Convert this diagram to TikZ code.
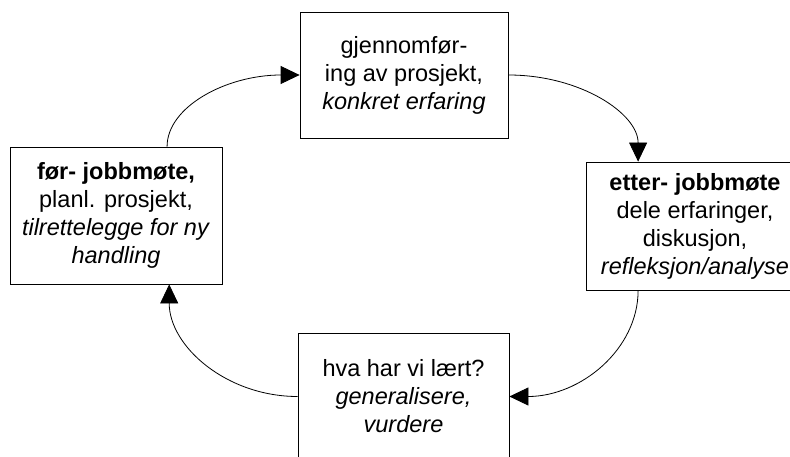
\documentclass[tikz,border=0pt]{standalone}
\usepackage{fontspec}
\setmainfont{Liberation Sans}
\usetikzlibrary{arrows.meta,calc}
\tikzset{
  stage/.style={draw=black, line width=0.8pt, fill=white, inner sep=0pt, align=center,
    font=\fontsize{23.5}{28}\selectfont},
  flow/.style={line width=0.8pt, -{Triangle[length=19pt,width=18pt]}}
}
\begin{document}
\begin{tikzpicture}[x=1pt,y=-1pt]
\clip (0,0) rectangle (790,457);
\fill[white] (0,0) rectangle (790,457);
\node[stage, minimum width=218pt, minimum height=128pt] (R) at (695,226)
  {\textbf{etter- jobbmøte}\\dele erfaringer,\\diskusjon,\\\textit{refleksjon/analyse}};
\node[stage, minimum width=208pt, minimum height=126pt] (T) at (404,75)
  {gjennomfør-\\ing av prosjekt,\\\textit{konkret erfaring}};
\node[stage, minimum width=212pt, minimum height=137pt] (L) at (116,215.5)
  {\textbf{før- jobbmøte,}\\planl. prosjekt,\\\textit{tilrettelegge for ny}\\\textit{handling}};
\node[stage, minimum width=211pt, minimum height=127pt] (B) at (403.5,396.5)
  {hva har vi lært?\\\textit{generalisere,}\\\textit{vurdere}};
\coordinate (Ltop) at ($(L.north west)!0.74!(L.north east)$);
\coordinate (Lbot) at ($(L.south west)!0.75!(L.south east)$);
\coordinate (Rtop) at ($(R.north west)!0.24!(R.north east)$);
\coordinate (Rbot) at ($(R.south west)!0.24!(R.south east)$);
\draw[flow] (Ltop) .. controls +(0,-40) and +(-73,0) .. (T.west);
\draw[flow] (T.east) .. controls +(72,0) and +(0,-48) .. (Rtop);
\draw[flow] (Rbot) .. controls +(0,59) and +(71,0) .. (B.east);
\draw[flow] (B.west) .. controls +(-71,0) and +(0,62) .. (Lbot);
\end{tikzpicture}
\end{document}
